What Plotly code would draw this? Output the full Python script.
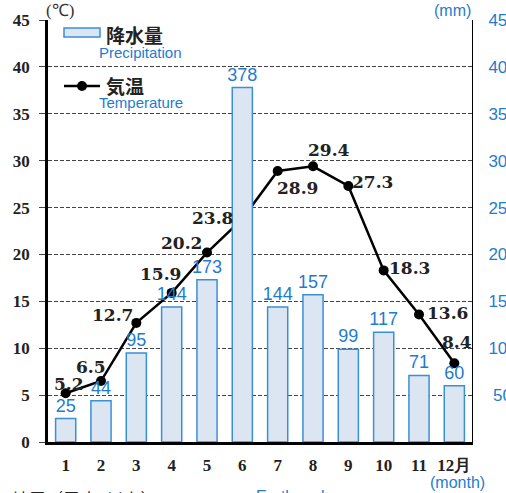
import plotly.graph_objects as go

months = list(range(1, 13))
month_labels = ["1", "2", "3", "4", "5", "6", "7", "8", "9", "10", "11", "12月"]
precip = [25, 44, 95, 144, 173, 378, 144, 157, 99, 117, 71, 60]
temp = [5.2, 6.5, 12.7, 15.9, 20.2, 23.8, 28.9, 29.4, 27.3, 18.3, 13.6, 8.4]
# label offsets (pixels) for temperature values
temp_dx = [3, -10, -24, -11, -26, -30, 20, 16, 24, 26, 28, 3]
temp_dy = [9, 14, 8, 19, 10, 1, -17, 16, 4, 2, 1, 21]
y_left_ticks = [0, 5, 10, 15, 20, 25, 30, 35, 40, 45]
y_right_ticks = [0, 50, 100, 150, 200, 250, 300, 350, 400, 450]
y_right_text = ["\u2007\u20070", "\u00a050", "100", "150", "200", "250", "300", "350", "400", "450"]

BLUE = "#1f7ccc"
BAR_FILL = "#dce6f2"
BAR_LINE = "#3a8fd6"

W, H = 506, 493
L, R, T, B = 48, 34, 20, 51
PW, PH = W - L - R, H - T - B

def px(x):
    return (x - L) / PW

def py(y):
    return (H - B - y) / PH

fig = go.Figure()
fig.add_trace(go.Bar(
    x=months, y=precip, yaxis="y2", width=0.57,
    marker=dict(color=BAR_FILL, line=dict(color=BAR_LINE, width=1.5)),
    text=[str(v) for v in precip], textposition="outside", constraintext="none",
    textfont=dict(family="Liberation Sans", size=18, color=BLUE),
    cliponaxis=False, showlegend=False,
))
fig.add_trace(go.Scatter(
    x=months, y=temp, mode="lines+markers",
    line=dict(color="black", width=2.5),
    marker=dict(color="black", size=10),
    showlegend=False, cliponaxis=False,
))

for m, t, dx, dy in zip(months, temp, temp_dx, temp_dy):
    fig.add_annotation(x=m, y=t, xref="x", yref="y", text=f"{t}", showarrow=False,
                       xshift=dx, yshift=dy,
                       font=dict(family="DejaVu Serif", size=17, color="#222", weight="bold"))

# legend (custom)
fig.add_shape(type="rect", xref="paper", yref="paper",
              x0=px(64), x1=px(100), y0=py(37), y1=py(28),
              fillcolor=BAR_FILL, line=dict(color=BAR_LINE, width=1.5))
fig.add_shape(type="line", xref="paper", yref="paper",
              x0=px(64), x1=px(100), y0=py(86), y1=py(86),
              line=dict(color="black", width=2.5))
fig.add_shape(type="circle", xref="paper", yref="paper",
              x0=px(77), x1=px(87), y0=py(91), y1=py(81),
              fillcolor="black", line=dict(color="black", width=0))
fig.add_annotation(xref="paper", yref="paper", x=px(104), y=py(35), xanchor="left", yanchor="middle",
                   text="降水量", showarrow=False,
                   font=dict(family="Noto Sans CJK JP", size=19, color="#222", weight="bold"))
fig.add_annotation(xref="paper", yref="paper", x=px(97), y=py(53), xanchor="left", yanchor="middle",
                   text="Precipitation", showarrow=False,
                   font=dict(family="Liberation Sans", size=15, color=BLUE))
fig.add_annotation(xref="paper", yref="paper", x=px(104), y=py(86), xanchor="left", yanchor="middle",
                   text="気温", showarrow=False,
                   font=dict(family="Noto Sans CJK JP", size=19, color="#222", weight="bold"))
fig.add_annotation(xref="paper", yref="paper", x=px(97), y=py(103), xanchor="left", yanchor="middle",
                   text="Temperature", showarrow=False,
                   font=dict(family="Liberation Sans", size=15, color=BLUE))

# units
fig.add_annotation(xref="paper", yref="paper", x=px(44), y=py(10), xanchor="left", yanchor="middle",
                   text="(℃)", showarrow=False,
                   font=dict(family="Liberation Serif", size=17, color="#333"))
fig.add_annotation(xref="paper", yref="paper", x=px(473), y=py(10), xanchor="right", yanchor="middle",
                   text="(mm)", showarrow=False,
                   font=dict(family="Liberation Sans", size=16, color=BLUE))
fig.add_annotation(xref="paper", yref="paper", x=px(457), y=py(482), xanchor="center", yanchor="middle",
                   text="(month)", showarrow=False,
                   font=dict(family="Liberation Sans", size=16, color=BLUE))
# cut-off text at bottom
fig.add_annotation(xref="paper", yref="paper", x=px(10), y=py(484), xanchor="left", yanchor="top",
                   text="地震（震度1以上）", showarrow=False,
                   font=dict(family="Noto Sans CJK JP", size=17, color="#222"))
fig.add_annotation(xref="paper", yref="paper", x=px(254), y=py(486), xanchor="left", yanchor="top",
                   text="Earthquakes:", showarrow=False,
                   font=dict(family="Liberation Sans", size=16, color=BLUE))

fig.update_layout(
    width=W, height=H,
    margin=dict(l=L, r=R, t=T, b=B, pad=0, autoexpand=False),
    paper_bgcolor="white", plot_bgcolor="white",
    bargap=0.43,
    xaxis=dict(
        range=[0.5, 12.5], tickmode="array", tickvals=months, ticktext=month_labels,
        showline=True, linecolor="black", linewidth=2.5, showgrid=False, zeroline=False,
        ticks="", ticklabelstandoff=6, automargin=False,
        tickfont=dict(family="Liberation Serif", size=17, color="#222", weight="bold"),
    ),
    yaxis=dict(
        range=[0, 45], tickmode="array", tickvals=y_left_ticks,
        showline=True, linecolor="black", linewidth=2.5,
        showgrid=True, gridcolor="#444", griddash="4px,2px", gridwidth=1,
        zeroline=False, ticks="outside", ticklen=6, tickcolor="#444", tickwidth=1,
        ticklabelstandoff=6, automargin=False,
        tickfont=dict(family="Liberation Serif", size=17, color="#222", weight="bold"),
    ),
    yaxis2=dict(
        range=[0, 450], overlaying="y", side="right",
        tickmode="array", tickvals=y_right_ticks, ticktext=y_right_text,
        showline=True, linecolor="black", linewidth=1, showgrid=False, zeroline=False,
        ticks="", ticklabelstandoff=12, automargin=False,
        tickfont=dict(family="Liberation Sans", size=17, color=BLUE),
    ),
)

fig.write_html("out.html", config={"displayModeBar": False},
               post_script="document.body.style.margin='0';document.body.style.overflow='hidden';")
